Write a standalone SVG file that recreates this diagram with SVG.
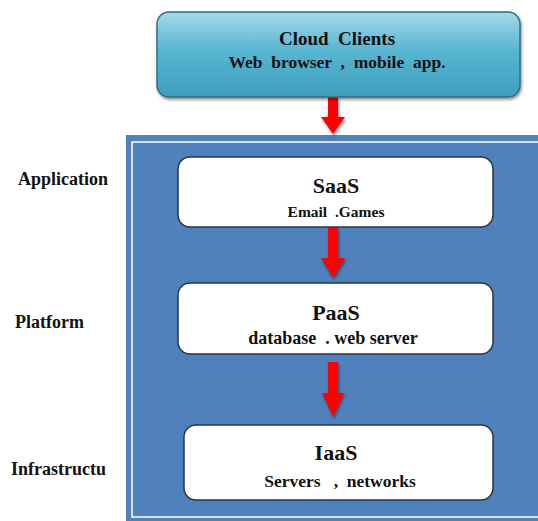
<svg xmlns="http://www.w3.org/2000/svg" width="538" height="521" viewBox="0 0 538 521">
<style>
.t{font-family:"Liberation Serif","Times New Roman",serif;font-weight:bold;fill:#111;text-anchor:middle;white-space:pre}
.lbl{font-family:"Liberation Serif","Times New Roman",serif;font-weight:bold;fill:#111;font-size:18px}
.box{fill:#fff;stroke:#2a3440;stroke-width:1.5}
.arr{fill:#ff0000;filter:url(#sh)}
</style>
<defs>
<linearGradient id="g" x1="0" y1="0" x2="0" y2="1">
<stop offset="0" stop-color="#a6d9e8"/>
<stop offset="0.45" stop-color="#58b6d1"/>
<stop offset="1" stop-color="#3f9fbe"/>
</linearGradient>
<filter id="sh" x="-20%" y="-20%" width="140%" height="140%">
<feDropShadow dx="1" dy="2" stdDeviation="1.5" flood-color="#000" flood-opacity="0.45"/>
</filter>
</defs>
<rect width="538" height="521" fill="#fff"/>
<g id="container">
<rect x="126" y="135" width="412" height="386" fill="#4f81bd"/>
<rect x="132" y="142" width="420" height="375" fill="none" stroke="#fff" stroke-width="1.5"/>
</g>
<g id="connectors">
<polygon class="arr" points="328,97 338,97 338,117 345,117 333,134 321,117 328,117"/>
<polygon class="arr" points="328,227 338,227 338,258 345,258 333,278 321,258 328,258"/>
<polygon class="arr" points="328,362 338,362 338,393 344,393 333,417 322,393 328,393"/>
</g>
<g id="cloud-clients">
<rect x="157" y="12" width="363" height="85" rx="12" fill="url(#g)" stroke="#2f6f85" stroke-width="1.5" filter="url(#sh)"/>
<text class="t" x="337" y="45" font-size="19" xml:space="preserve">Cloud  Clients</text>
<text class="t" x="337" y="68" font-size="17.5" xml:space="preserve">Web  browser  ,  mobile  app.</text>
</g>
<g id="saas">
<rect class="box" x="178" y="157" width="315" height="70" rx="12"/>
<text class="t" x="336" y="193" font-size="22">SaaS</text>
<text class="t" x="336" y="217" font-size="15.5" xml:space="preserve">Email  .Games</text>
</g>
<g id="paas">
<rect class="box" x="178" y="283" width="315" height="71" rx="12"/>
<text class="t" x="336" y="320" font-size="22">PaaS</text>
<text class="t" x="333" y="344" font-size="18" xml:space="preserve">database  . web server</text>
</g>
<g id="iaas">
<rect class="box" x="184" y="425" width="309" height="75" rx="12"/>
<text class="t" x="336" y="460" font-size="22">IaaS</text>
<text class="t" x="340" y="487" font-size="17.5" xml:space="preserve">Servers   ,  networks</text>
</g>
<g id="labels">
<text class="lbl" x="18" y="185">Application</text>
<text class="lbl" x="15" y="328">Platform</text>
<text class="lbl" x="11" y="475">Infrastructu</text>
</g>
</svg>
